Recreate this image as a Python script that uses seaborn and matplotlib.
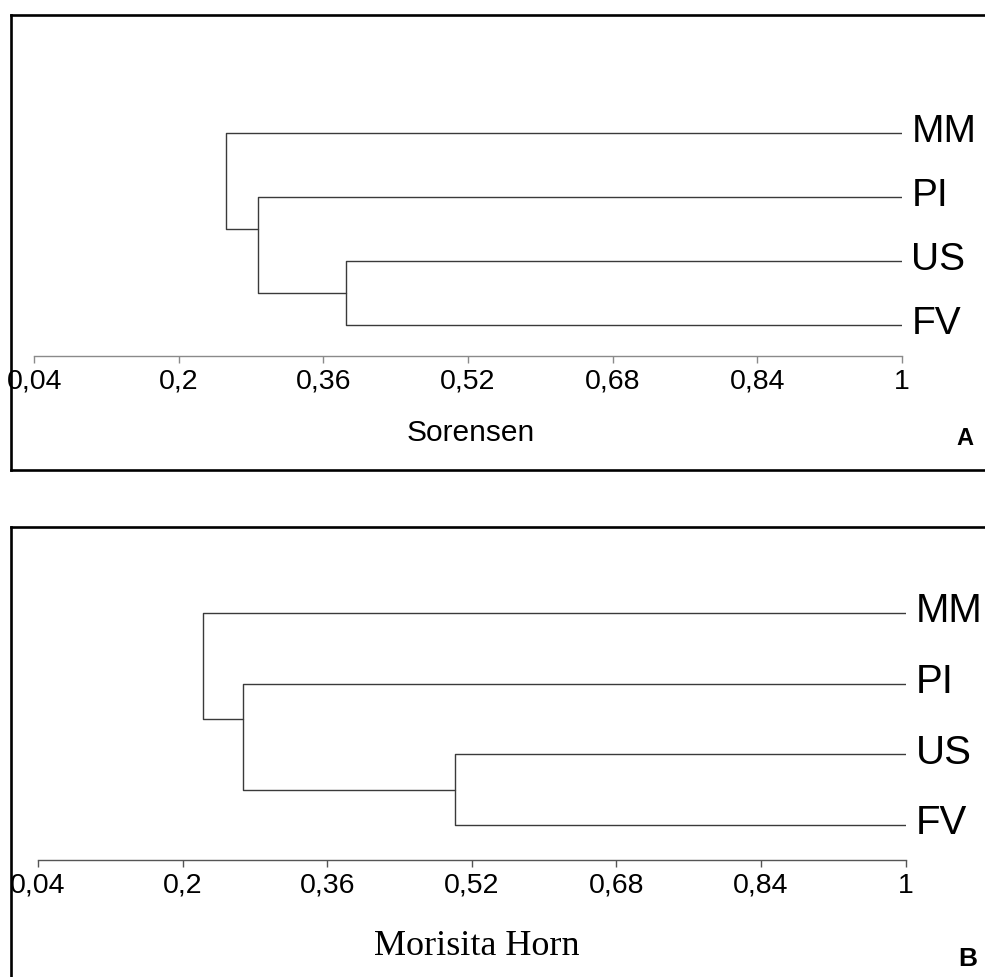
import numpy as np
import pandas as pd
import matplotlib
matplotlib.use("Agg")
import matplotlib.pyplot as plt
import seaborn as sns

# ---------------- data ----------------
leaves = ["MM", "PI", "US", "FV"]
# merge similarity levels (first: US+FV, then PI joins, then MM joins)
sorensen_levels = [0.385, 0.288, 0.252]
morisita_levels = [0.501, 0.267, 0.223]
tick_values = [0.04, 0.2, 0.36, 0.52, 0.68, 0.84, 1.0]
tick_labels = ["0,04", "0,2", "0,36", "0,52", "0,68", "0,84", "1"]
panel_titles = ["Sorensen", "Morisita Horn"]
panel_letters = ["A", "B"]

sns.set_theme(style="white")
plt.rcParams["font.family"] = ["Liberation Sans", "DejaVu Sans"]

W, H = 985, 978
fig = plt.figure(figsize=(W / 100, H / 100), dpi=100)
fig.patch.set_facecolor("white")


def axes_px(left, top, right, bottom, **kw):
    return fig.add_axes([left / W, 1 - bottom / H, (right - left) / W, (bottom - top) / H], **kw)


def ftext(x, y, s, **kw):
    fig.text(x / W, 1 - y / H, s, **kw)


def dendro_segments(levels):
    # leaf y positions = index; US-FV node, then PI + node, then MM + node
    h_usfv, h_pi, h_mm = levels
    y_us, y_fv, y_pi, y_mm = 2, 3, 1, 0
    y_node0 = (y_us + y_fv) / 2          # connection of US-FV node
    y_node1 = (y_pi + y_us) / 2          # connection of PI node
    segs = [
        [(1.0, y_us), (h_usfv, y_us), (h_usfv, y_fv), (1.0, y_fv)],
        [(1.0, y_pi), (h_pi, y_pi), (h_pi, y_node0), (h_usfv, y_node0)],
        [(1.0, y_mm), (h_mm, y_mm), (h_mm, y_node1), (h_pi, y_node1)],
    ]
    rows = []
    for i, seg in enumerate(segs):
        for j, (x, y) in enumerate(seg):
            rows.append({"x": x, "y": y, "seg": i, "order": j})
    return pd.DataFrame(rows)


panels = [
    dict(frame=(10.5, 16, 995, 471), inner=(34.3, 901.7, 357, 134, 64.0),
         levels=sorensen_levels, axcolor="#8a8a8a", leafsize=28,
         title=panel_titles[0], title_xy=(471, 441), title_font=dict(family=["Liberation Sans"], size=21.5),
         letter=panel_letters[0], letter_xy=(964.5, 445), letter_size=17),
    dict(frame=(10.5, 528, 995, 995), inner=(38.0, 905.7, 861, 614, 70.7),
         levels=morisita_levels, axcolor="#555555", leafsize=29,
         title=panel_titles[1], title_xy=(476.5, 955), title_font=dict(family=["Liberation Serif"], size=26),
         letter=panel_letters[1], letter_xy=(967.5, 966), letter_size=19),
]

for p in panels:
    fl, ft, fr, fb = p["frame"]
    fax = axes_px(fl, ft, fr, fb)
    fax.set_xticks([])
    fax.set_yticks([])
    fax.set_facecolor("white")
    for s in fax.spines.values():
        s.set_visible(True)
        s.set_color("black")
        s.set_linewidth(1.9)

    left, right, axis_y, y_first, spacing = p["inner"]
    top = y_first - spacing
    ax = axes_px(left, top, right, axis_y)
    ax.patch.set_alpha(0)
    df = dendro_segments(p["levels"])
    sns.lineplot(data=df, x="x", y="y", units="seg", estimator=None, sort=False,
                 color="#3a3a3a", linewidth=1.0, ax=ax, legend=False)
    ax.set_xlim(0.04, 1.0)
    ax.set_ylim(3 + (axis_y - (y_first + 3 * spacing)) / spacing, -1)
    ax.set_xlabel("")
    ax.set_ylabel("")
    ax.set_yticks([])
    ax.set_xticks(tick_values)
    ax.set_xticklabels(tick_labels)
    ax.tick_params(axis="x", direction="out", length=5, width=1, color=p["axcolor"],
                   labelsize=20.5, labelcolor="black", pad=3.5, bottom=True)
    for name, s in ax.spines.items():
        s.set_visible(name == "bottom")
    ax.spines["bottom"].set_color(p["axcolor"])
    ax.spines["bottom"].set_linewidth(1.0)

    for i, lab in enumerate(leaves):
        ax.annotate(lab, xy=(1.0, i), xytext=(7, -6), textcoords="offset points",
                    ha="left", va="baseline", fontsize=p["leafsize"], color="black",
                    annotation_clip=False)

    tx, ty = p["title_xy"]
    ftext(tx, ty, p["title"], ha="center", va="baseline", color="black", **p["title_font"])
    lx, ly = p["letter_xy"]
    ftext(lx, ly, p["letter"], ha="center", va="baseline", fontsize=p["letter_size"],
          fontweight="bold", color="black")

fig.savefig("out.png", dpi=100, facecolor="white")
